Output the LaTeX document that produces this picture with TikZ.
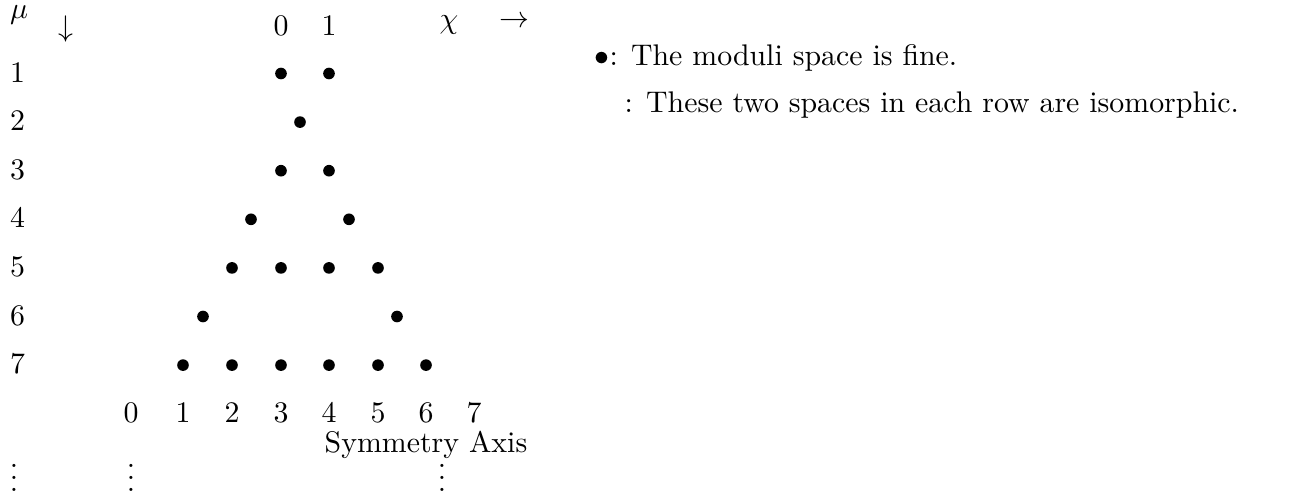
\documentclass[tikz,border=0pt]{standalone}
\newcommand{\myvdots}{\vbox{\baselineskip4pt\lineskiplimit0pt\hbox{.}\hbox{.}\hbox{.}}}
\begin{document}
\begin{tikzpicture}[x=0.335pt,y=-0.335pt,
  lab/.style={inner sep=0pt, anchor=base},
  dot/.style={circle, fill=black, inner sep=0pt, minimum size=3.9pt},
  legend/.style={inner sep=0pt, anchor=base west}]
\useasboundingbox (0,0) rectangle (1292,497);
% header
\node[lab] (mu) at (19,18) {$\mu$};
\node[lab] (down) at (66,36) {$\downarrow$};
\node[lab] (t0) at (281,35) {$0$};
\node[lab] (t1) at (329,35) {$1$};
\node[lab] (chi) at (449,28) {$\chi$};
\node[lab] (right) at (514,27) {$\rightarrow$};
% row labels
\foreach \r in {1,...,7}
  \node[lab] (r\r) at (17.5,{82+48.6*(\r-1)}) {$\r$};
% dots
\foreach \x/\r/\n in {281/1/a,329/1/b,
  300/2/a,
  281/3/a,329/3/b,
  251/4/a,349/4/b,
  232/5/a,281/5/b,329/5/c,378/5/d,
  203/6/a,397/6/b,
  183/7/a,232/7/b,281/7/c,329/7/d,378/7/e,426/7/f}
  \node[dot] (d\r\n) at (\x,{73.5+48.6*(\r-1)}) {};
% bottom numbers
\foreach \x/\k in {131/0,183/1,232/2,281/3,329/4,378/5,426/6,474/7}
  \node[lab] (b\k) at (\x,422) {$\k$};
\node[lab] (axis) at (426,452) {Symmetry Axis};
% vdots
\node[lab] (v1) at (14,491) {\myvdots};
\node[lab] (v2) at (131,491) {\myvdots};
\node[lab] (v3) at (442,491) {\myvdots};
% legend
\node[legend] (leg1) at (594,65) {$\bullet$: The moduli space is fine.};
\node[legend] (leg2) at (624,112) {: These two spaces in each row are isomorphic.};
\end{tikzpicture}
\end{document}
